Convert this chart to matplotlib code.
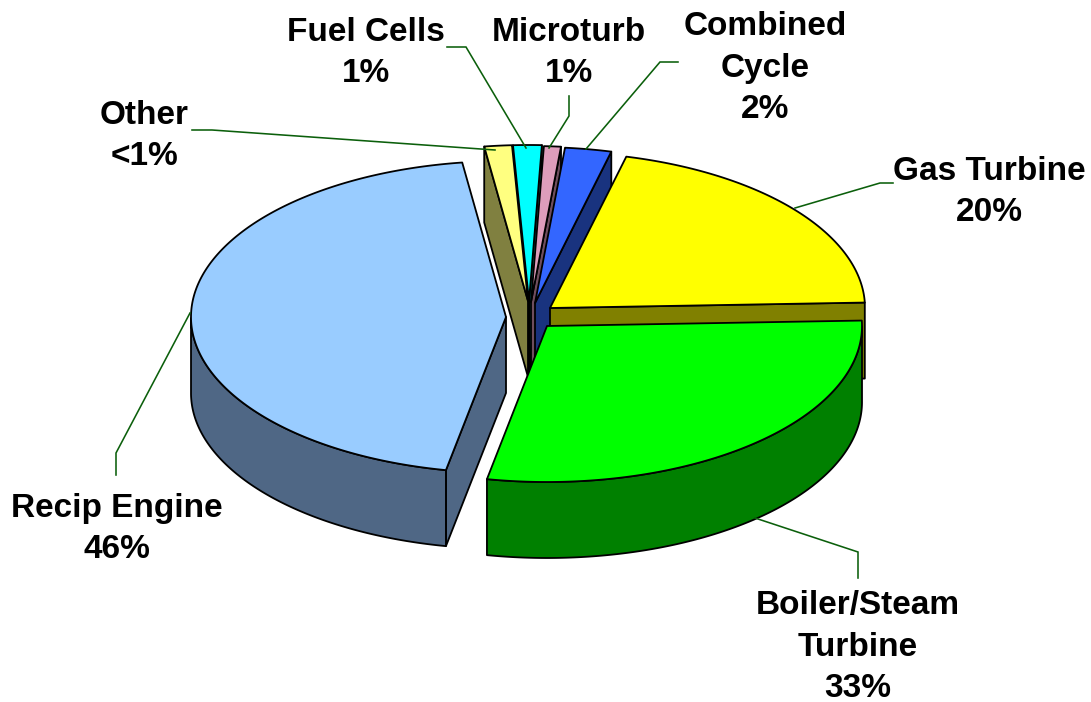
import numpy as np
import matplotlib
matplotlib.use("Agg")
import matplotlib.pyplot as plt
from matplotlib.patches import Polygon

# ---- data (clockwise from the right-hand edge of the pie) ----
categories = ["Boiler/Steam\nTurbine", "Recip Engine", "Other", "Fuel Cells",
              "Microturb", "Combined\nCycle", "Gas Turbine"]
# Shares as drawn; the "Other" sliver is drawn wider than its printed "<1%".
shares = [33, 46, 1.3, 1.35, 0.8, 2.2, 20]
percent_labels = ["33%", "46%", "<1%", "1%", "1%", "2%", "20%"]

# ---- styles and layout (pixel space of the 1091x702 picture) ----
top_colors = ["#00FF00", "#99CCFF", "#FFFF80", "#00FFFF", "#DE9DBB", "#3366FF", "#FFFF00"]
side_colors = ["#008000", "#4F6785", "#808040", "#008080", "#6F4E5E", "#19337F", "#808000"]
explode = [(12, 16), (-29, 7), (-7, -9), (-6, -9), (-4, -8), (0, -7), (15, -2)]
draw_order = [3, 4, 2, 5, 6, 1, 0]
CENTER = (535, 310)
A, B, DEPTH = 315, 156, 76
label_pos = [(858, 647), (117, 529), (144, 136), (366, 53), (569, 53), (765, 68), (989, 192)]
leaders = [
    [(858, 578), (858, 552), (755, 518)],
    [(116, 475), (116, 453), (190, 313)],
    [(192, 130), (212, 130), (495, 150)],
    [(447, 47), (466, 47), (526, 148)],
    [(569, 96), (569, 116), (549, 148)],
    [(678, 62), (660, 62), (586, 149)],
    [(893, 183), (880, 183), (795, 208)],
]
OUT = "black"
LW = 1.3


def view_angle(theta):
    """Clockwise data angle to parametric screen angle: the 3D view squeezes the front."""
    r = np.radians(theta)
    return theta - 2 - 7.71 * (1 - np.cos(r)) + 0.28 * np.sin(r)


def rim(cx, cy, t):
    r = np.radians(t)
    return np.column_stack([cx + A * np.cos(r), cy - B * np.sin(r)])


fig = plt.figure(figsize=(10.91, 7.02), dpi=100)
ax = fig.add_axes([0, 0, 1, 1])
ax.set_xlim(0, 1091)
ax.set_ylim(702, 0)
ax.axis("off")

edges = np.concatenate([[0], np.cumsum(shares)]) / np.sum(shares) * 360
z = 2
for i in draw_order:
    cx = CENTER[0] + explode[i][0]
    cy = CENTER[1] + explode[i][1]
    # counter-clockwise parametric range t0 -> t1
    t1 = -view_angle(edges[i])
    t0 = -view_angle(edges[i + 1])
    ts = np.linspace(t0, t1, 200)
    arc = rim(cx, cy, ts)
    apex = np.array([[cx, cy]])
    down = np.array([0, DEPTH])

    def add(pts, color):
        global z
        ax.add_patch(Polygon(pts, closed=True, facecolor=color, edgecolor=OUT,
                             linewidth=LW, joinstyle="round", zorder=z))
        z += 1

    # visible cut faces
    if np.cos(np.radians(t0)) > 0:
        p = rim(cx, cy, [t0])
        add(np.vstack([apex, p, p + down, apex + down]), side_colors[i])
    if np.cos(np.radians(t1)) < 0:
        p = rim(cx, cy, [t1])
        add(np.vstack([apex, p, p + down, apex + down]), side_colors[i])
    # outer wall on the front half of the rim
    m0, m1 = t0 % 360, t0 % 360 + (t1 - t0)
    wall = np.linspace(m0, m1, 300)
    wall = wall[np.sin(np.radians(wall)) < 0]
    if wall.size:
        w = rim(cx, cy, wall)
        add(np.vstack([w, (w + down)[::-1]]), side_colors[i])
    # top face
    add(np.vstack([apex, arc]), top_colors[i])

for pts in leaders:
    xs, ys = zip(*pts)
    ax.plot(xs, ys, color="#0B5F0B", lw=1.15, zorder=100, solid_joinstyle="miter")

for name, pct, (x, y) in zip(categories, percent_labels, label_pos):
    ax.text(x, y, f"{name}\n{pct}", ha="center", va="center", family="Liberation Sans",
            fontweight="bold", fontsize=24, linespacing=1.43, color="black", zorder=101)

fig.savefig("out.png", dpi=100, facecolor="white")
